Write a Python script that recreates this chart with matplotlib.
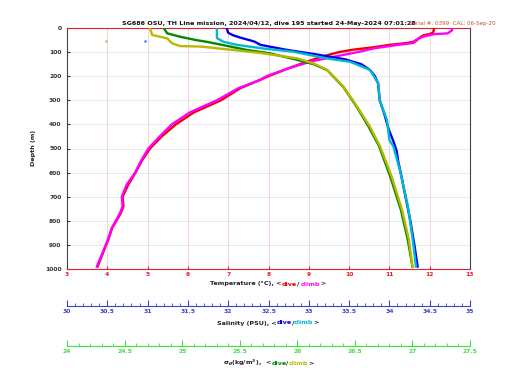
import matplotlib
matplotlib.use("Agg")
import matplotlib.pyplot as plt
from matplotlib.ticker import MultipleLocator, FormatStrFormatter
from matplotlib.offsetbox import TextArea, HPacker, AnnotationBbox

plt.rcParams['font.family'] = ['DejaVu Sans']
plt.rcParams['font.weight'] = 'bold'

# dive 195 profiles
temp_dive_depth = [0, 10, 20, 25, 30, 40, 55, 62, 70, 80, 90, 100, 120, 140, 170, 200, 250, 300, 350, 400,
                   450, 500, 550, 600, 650, 700, 740, 770, 830, 880, 930, 990]
temp_dive = [12.1, 12.1, 12.08, 12.0, 11.85, 11.75, 11.65, 11.45, 11.0, 10.6, 10.1, 9.75, 9.3, 8.95, 8.45, 8.0,
             7.3, 6.82, 6.15, 5.7, 5.35, 5.06, 4.86, 4.70, 4.52, 4.38, 4.40, 4.33, 4.12, 4.02, 3.90, 3.76]
temp_climb_depth = [0, 10, 22, 26, 35, 50, 62, 68, 75, 85, 98, 120, 140, 170, 200, 216, 250, 300, 350, 400,
                    450, 500, 550, 600, 650, 700, 740, 770, 830, 880, 930, 990]
temp_climb = [12.55, 12.55, 12.45, 12.1, 11.85, 11.65, 11.6, 11.3, 11.0, 10.6, 10.27, 9.6, 9.03, 8.45, 7.95, 7.79,
              7.25, 6.72, 6.05, 5.6, 5.3, 5.02, 4.84, 4.69, 4.48, 4.36, 4.38, 4.31, 4.11, 4.01, 3.89, 3.74]

sal_dive_depth = [0, 20, 30, 40, 50, 57, 70, 91, 110, 130, 150, 174, 200, 230, 300, 360, 420, 470, 510, 555,
                  600, 700, 800, 900, 990]
sal_dive = [31.98, 32.0, 32.06, 32.15, 32.26, 32.33, 32.4, 32.73, 33.1, 33.45, 33.65, 33.76, 33.82, 33.86, 33.88,
            33.94, 33.99, 34.05, 34.09, 34.11, 34.14, 34.2, 34.26, 34.31, 34.35]
sal_climb_depth = [0, 42, 57, 70, 85, 98, 126, 140, 174, 229, 300, 382, 465, 492, 589, 741, 880, 990]
sal_climb = [31.86, 31.86, 31.94, 32.11, 32.43, 32.8, 33.22, 33.51, 33.76, 33.86, 33.88, 33.97, 34.0, 34.05,
             34.13, 34.23, 34.29, 34.33]

sig_dive_depth = [0, 22, 36, 50, 57, 77, 91, 105, 130, 150, 175, 245, 330, 410, 490, 620, 755, 880, 990]
sig_dive = [24.84, 24.87, 24.98, 25.12, 25.21, 25.42, 25.56, 25.76, 25.98, 26.14, 26.26, 26.4, 26.52, 26.62,
            26.71, 26.81, 26.9, 26.96, 27.0]
sig_climb_depth = [0, 29, 43, 63, 75, 77, 91, 105, 126, 147, 174, 243, 326, 409, 492, 617, 755, 880, 990]
sig_climb = [24.72, 24.74, 24.87, 24.91, 24.98, 25.16, 25.44, 25.7, 26.0, 26.14, 26.26, 26.4, 26.52, 26.63,
             26.72, 26.82, 26.91, 26.97, 27.0]

# a few stray points near the surface
stray_sal = [30.97]
stray_sig = [24.34]
stray_depth = [55]

title = "SG686 OSU, TH Line mission, 2024/04/12, dive 195 started 24-May-2024 07:01:28"
serial = "Serial #: 0399  CAL: 06-Sep-20"

W, H = 520, 390
fig = plt.figure(figsize=(5.2, 3.9), dpi=100)
ax = fig.add_axes([67 / W, 1 - 269 / H, 403 / W, 241 / H])

tcol = '#e02030'
scol = '#4040c8'
gcol = '#40e040'
fs = 4.3
lw = 1.7

# temperature
ax.plot(temp_dive, temp_dive_depth, color='#ee0000', lw=lw, zorder=3)
ax.plot(temp_climb, temp_climb_depth, color='#ff00ff', lw=lw, zorder=3)
ax.set_xlim(3, 13)
ax.set_ylim(1000, 0)
ax.xaxis.set_major_locator(MultipleLocator(1))
ax.yaxis.set_major_locator(MultipleLocator(100))
ax.tick_params(axis='x', direction='in', colors=tcol, labelsize=fs, length=2, pad=2)
ax.tick_params(axis='y', direction='in', colors='#333333', labelsize=fs, length=2, pad=4)
ax.grid(axis='x', color='#f2c4c8', lw=0.5)
ax.grid(axis='y', color='#e0e0e0', lw=0.5)
ax.set_axisbelow(True)
for s in ['top', 'bottom']:
    ax.spines[s].set_color(tcol)
for s in ['left', 'right']:
    ax.spines[s].set_color('#444444')
for s in ax.spines.values():
    s.set_linewidth(0.8)

# salinity
ax2 = ax.twiny()
ax2.plot(sal_dive, sal_dive_depth, color='#0000ee', lw=lw, zorder=3)
ax2.plot(sal_climb, sal_climb_depth, color='#00b8d0', lw=lw, zorder=3)
ax2.plot(stray_sal, stray_depth, '.', color='#3070ff', ms=1.5)
ax2.set_xlim(30, 35)
ax2.set_ylim(1000, 0)

# sigma theta
ax3 = ax.twiny()
ax3.plot(sig_dive, sig_dive_depth, color='#008800', lw=lw, zorder=3)
ax3.plot(sig_climb, sig_climb_depth, color='#b8b800', lw=lw, zorder=3)
ax3.plot(stray_sig, stray_depth, '.', color='#d0b040', ms=1.5)
ax3.set_xlim(24, 27.5)
ax3.set_ylim(1000, 0)

for a, col, off in [(ax2, scol, 37 * 0.72), (ax3, gcol, 77 * 0.72)]:
    a.xaxis.set_ticks_position('bottom')
    a.xaxis.set_label_position('bottom')
    a.spines['bottom'].set_position(('outward', off))
    a.spines['bottom'].set_color(col)
    a.spines['bottom'].set_linewidth(0.8)
    for s in ['top', 'left', 'right']:
        a.spines[s].set_visible(False)
    a.xaxis.set_major_locator(MultipleLocator(0.5))
    a.xaxis.set_minor_locator(MultipleLocator(0.1))
    a.xaxis.set_major_formatter(FormatStrFormatter('%g'))
    a.tick_params(axis='x', which='major', direction='in', colors=col, labelsize=fs, length=4, pad=2)
    a.tick_params(axis='x', which='minor', direction='in', colors=col, length=2)


def color_label(x, y, parts):
    boxes = [TextArea(t, textprops=dict(color=c, size=4.6, weight='bold')) for t, c in parts]
    pack = HPacker(children=boxes, align='baseline', pad=0, sep=0)
    ab = AnnotationBbox(pack, (x / W, 1 - y / H), xycoords='figure fraction', frameon=False,
                        box_alignment=(0.5, 0.5), pad=0)
    fig.add_artist(ab)


color_label(268, 284, [("Temperature (°C), <", '#222222'), ("dive", '#ee0000'), ("/ ", '#222222'),
                       ("climb", '#ff00ff'), (">", '#222222')])
color_label(268, 323, [("Salinity (PSU), <", '#222222'), ("dive", '#0000ee'), ("/", '#222222'),
                       ("climb", '#00b8d0'), (">", '#222222')])
color_label(268, 363, [("σ$_θ$(kg/m$^3$),  <", '#222222'), ("dive", '#008800'), ("/", '#222222'),
                       ("climb", '#b8b800'), (">", '#222222')])

fig.text(33 / W, 1 - 148 / H, "Depth (m)", rotation=90, ha='center', va='center', size=4.6, color='#222222')
fig.text(269 / W, 1 - 23 / H, title, ha='center', va='center', size=4.6, color='#111111')
fig.text(409 / W, 1 - 23 / H, serial, ha='left', va='center', size=4.1, color='#b05838', weight='normal')

fig.savefig('out.png', dpi=100)
